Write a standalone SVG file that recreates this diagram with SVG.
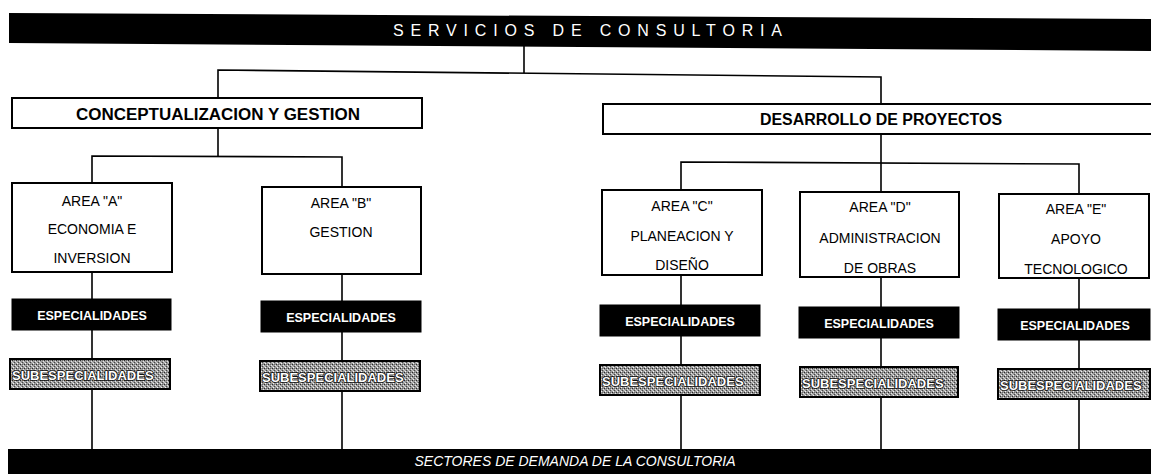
<svg xmlns="http://www.w3.org/2000/svg" width="1151" height="475" viewBox="0 0 1151 475">
<defs>
<pattern id="dither" width="4" height="4" patternUnits="userSpaceOnUse">
<rect width="4" height="4" fill="#9a9a9a"/>
<rect x="0" y="0" width="1" height="1" fill="#2a2a2a"/>
<rect x="2" y="2" width="1" height="1" fill="#444"/>
<rect x="1" y="3" width="1" height="1" fill="#f4f4f4"/>
<rect x="3" y="1" width="1" height="1" fill="#e6e6e6"/>
<rect x="2" y="0" width="1" height="1" fill="#6a6a6a"/>
<rect x="0" y="2" width="1" height="1" fill="#c8c8c8"/>
</pattern>
<style>
.bar{fill:#000}
.box{fill:#fff;stroke:#000;stroke-width:2}
.esp{fill:#000;stroke:#000;stroke-width:1}
.sub{fill:url(#dither);stroke:#000;stroke-width:2}
.ln{fill:none;stroke:#000;stroke-width:1.6}
.t{font-family:"Liberation Sans",Arial,sans-serif;fill:#000;text-anchor:middle}
.a{font-size:14px}
.h{font-size:16px;font-weight:bold}
.w{font-family:"Liberation Sans",Arial,sans-serif;fill:#fff;text-anchor:middle;font-size:12.5px;font-weight:bold}
.s{font-family:"Liberation Sans",Arial,sans-serif;fill:#fff;stroke:#111;stroke-width:1.6;paint-order:stroke;font-size:13px;font-weight:bold}
</style>
</defs>
<rect width="1151" height="475" fill="#fff"/>
<g id="connectors">
<polyline class="ln" points="524,44 524,73"/>
<polyline class="ln" points="218,98 218,70 881,77 881,104"/>
<polyline class="ln" points="218,128 218,156"/>
<polyline class="ln" points="92,449 92,156 342,157 342,449"/>
<polyline class="ln" points="881,134 881,449"/>
<polyline class="ln" points="681,449 681,162 1079,164 1079,449"/>
</g>
<g id="servicios">
<polygon class="bar" points="9,13 1151,19 1151,51 9,43"/>
<text x="393" y="36" font-family="Liberation Sans, Arial, sans-serif" font-size="16" fill="#fff" textLength="389" lengthAdjust="spacing">SERVICIOS DE CONSULTORIA</text>
</g>
<g id="conceptualizacion">
<rect class="box" x="12" y="98" width="410" height="30"/>
<text class="t h" x="218" y="120" textLength="284" lengthAdjust="spacingAndGlyphs">CONCEPTUALIZACION Y GESTION</text>
</g>
<g id="desarrollo">
<rect class="box" x="603" y="104" width="552" height="30"/>
<text class="t h" x="881" y="125" textLength="242" lengthAdjust="spacingAndGlyphs">DESARROLLO DE PROYECTOS</text>
</g>
<g id="area-a">
<rect class="box" x="12" y="183" width="160" height="89"/>
<text class="t a" x="92" y="206">AREA "A"</text>
<text class="t a" x="92" y="234">ECONOMIA E</text>
<text class="t a" x="92" y="263">INVERSION</text>
</g>
<g id="area-b">
<rect class="box" x="262" y="187" width="159" height="87"/>
<text class="t a" x="341" y="208">AREA "B"</text>
<text class="t a" x="341" y="237">GESTION</text>
</g>
<g id="area-c">
<rect class="box" x="602" y="190" width="160" height="85"/>
<text class="t a" x="682" y="211">AREA "C"</text>
<text class="t a" x="682" y="241">PLANEACION Y</text>
<text class="t a" x="682" y="270">DISEÑO</text>
</g>
<g id="area-d">
<rect class="box" x="800" y="192" width="159" height="85"/>
<text class="t a" x="880" y="212">AREA "D"</text>
<text class="t a" x="880" y="243">ADMINISTRACION</text>
<text class="t a" x="880" y="273">DE OBRAS</text>
</g>
<g id="area-e">
<rect class="box" x="999" y="194" width="150" height="84"/>
<text class="t a" x="1076" y="214">AREA "E"</text>
<text class="t a" x="1076" y="244">APOYO</text>
<text class="t a" x="1076" y="274">TECNOLOGICO</text>
</g>
<g id="esp-a"><rect class="esp" x="12" y="299" width="159" height="31"/><text class="w" x="92" y="320">ESPECIALIDADES</text></g>
<g id="esp-b"><rect class="esp" x="261" y="301" width="160" height="31"/><text class="w" x="341" y="322">ESPECIALIDADES</text></g>
<g id="esp-c"><rect class="esp" x="600" y="305" width="160" height="31"/><text class="w" x="680" y="326">ESPECIALIDADES</text></g>
<g id="esp-d"><rect class="esp" x="799" y="307" width="160" height="31"/><text class="w" x="879" y="328">ESPECIALIDADES</text></g>
<g id="esp-e"><rect class="esp" x="998" y="309" width="152" height="31"/><text class="w" x="1075" y="330">ESPECIALIDADES</text></g>
<g id="sub-a"><rect class="sub" x="10" y="359" width="160" height="30"/><text class="s" x="12" y="380">SUBESPECIALIDADES</text></g>
<g id="sub-b"><rect class="sub" x="260" y="361" width="160" height="30"/><text class="s" x="262" y="382">SUBESPECIALIDADES</text></g>
<g id="sub-c"><rect class="sub" x="600" y="365" width="160" height="30"/><text class="s" x="602" y="386">SUBESPECIALIDADES</text></g>
<g id="sub-d"><rect class="sub" x="800" y="367" width="158" height="30"/><text class="s" x="802" y="388">SUBESPECIALIDADES</text></g>
<g id="sub-e"><rect class="sub" x="998" y="369" width="152" height="30"/><text class="s" x="1000" y="390">SUBESPECIALIDADES</text></g>
<g id="sectores">
<rect class="bar" x="8" y="449" width="1143" height="25"/>
<text x="575" y="466" font-family="Liberation Sans, Arial, sans-serif" font-size="14" font-style="italic" fill="#fff" text-anchor="middle">SECTORES DE DEMANDA DE LA CONSULTORIA</text>
</g>
</svg>
